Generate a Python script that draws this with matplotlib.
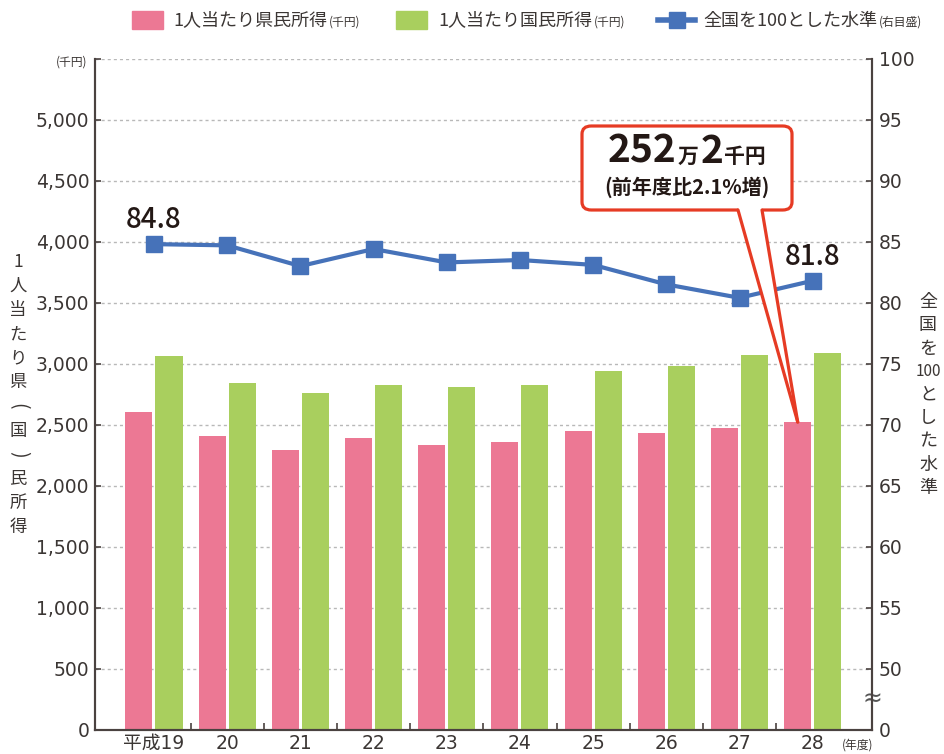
import matplotlib
matplotlib.use("Agg")
import matplotlib.pyplot as plt
import numpy as np
from matplotlib.patches import FancyBboxPatch, Polygon, Rectangle
from matplotlib.lines import Line2D
from matplotlib.offsetbox import TextArea, HPacker, AnnotationBbox

plt.rcParams['font.family'] = ['DejaVu Sans', 'Noto Sans CJK JP']
JP = ['Noto Sans CJK JP', 'DejaVu Sans']

# ---------------- data ----------------
years = ['平成19', '20', '21', '22', '23', '24', '25', '26', '27', '28']
pref_income = [2604, 2407, 2293, 2391, 2333, 2358, 2448, 2432, 2473, 2522]   # 千円
nat_income = [3063, 2842, 2760, 2825, 2809, 2825, 2940, 2981, 3071, 3088]    # 千円
level = [84.8, 84.7, 83.0, 84.4, 83.3, 83.5, 83.1, 81.5, 80.4, 81.8]         # 全国=100
left_ticks = [0, 500, 1000, 1500, 2000, 2500, 3000, 3500, 4000, 4500, 5000, 5500]
right_ticks = [0, 50, 55, 60, 65, 70, 75, 80, 85, 90, 95, 100]
legend_labels = ['1人当たり県民所得', '1人当たり国民所得', '全国を100とした水準']
legend_units = ['(千円)', '(千円)', '(右目盛)']
callout_main = ['252', '万', '2', '千円']
callout_sub = '(前年度比2.1%増)'
ylabel_left = ['1', '人', '当', 'た', 'り', '県', '(', '国', ')', '民', '所', '得']
ylabel_right = ['全', '国', 'を', '100', 'と', 'し', 'た', '水', '準']

PINK = '#ec7894'
GREEN = '#a9cf5e'
BLUE = '#4672b9'
RED = '#e63b24'
TXT = '#3b3634'
SPINE = '#4a4240'

W, H = 944, 754
fig = plt.figure(figsize=(W / 100, H / 100), dpi=100)

def fx(px):
    return px / W

def fy(py):
    return 1 - py / H

ax = fig.add_axes([fx(95), fy(729.7), fx(872) - fx(95), fy(58.7) - fy(729.7)])

x = np.arange(len(years))
bw = 0.369
off = 0.205
ax.bar(x - off, pref_income, bw, color=PINK, zorder=2)
ax.bar(x + off, nat_income, bw, color=GREEN, zorder=2)

ax.set_xlim(-0.806, 9.81)
ax.set_ylim(0, 5500)
ax.set_yticks(left_ticks)
ax.set_yticklabels([f'{v:,}' if v <= 5000 else '' for v in left_ticks])
ax.yaxis.grid(True, color='#b8b8b8', linestyle=(0, (2.2, 2.2)), linewidth=1.0)
ax.set_axisbelow(True)

ax.set_xticks(x)
ax.set_xticklabels(years)
ax.set_xticks(x[:-1] + 0.5, minor=True)
ax.tick_params(axis='x', which='major', length=0, pad=3, labelsize=13.5, colors=TXT)
ax.tick_params(axis='x', which='minor', direction='in', length=5, width=1.2, color=SPINE)
ax.tick_params(axis='y', direction='in', length=4, width=1.2, color=SPINE,
               labelsize=13.5, labelcolor=TXT, pad=4)
for lbl in ax.get_xticklabels():
    lbl.set_fontfamily(['DejaVu Sans', 'Noto Sans CJK JP'])

for s in ['left', 'right', 'bottom']:
    ax.spines[s].set_color(SPINE)
    ax.spines[s].set_linewidth(1.5)
ax.spines['top'].set_visible(False)

# right axis with broken scale (0 .. 50 compressed)
def fwd(v):
    v = np.asarray(v, dtype=float)
    return np.where(v < 50, v * 10.0, 500.0 + (v - 50.0) * 100.0)

def inv(u):
    u = np.asarray(u, dtype=float)
    return np.where(u < 500, u / 10.0, 50.0 + (u - 500.0) / 100.0)

ax2 = ax.twinx()
ax2.set_yscale('function', functions=(fwd, inv))
ax2.set_ylim(0, 100)
ax2.set_yticks(right_ticks)
ax2.set_yticklabels([str(v) for v in right_ticks])
ax2.yaxis.set_minor_locator(matplotlib.ticker.NullLocator())
ax2.tick_params(axis='y', direction='in', length=4, width=1.2, color=SPINE,
                labelsize=13.5, labelcolor=TXT, pad=5)
for s in ['left', 'right', 'bottom']:
    ax2.spines[s].set_color(SPINE)
    ax2.spines[s].set_linewidth(1.5)
ax2.spines['top'].set_visible(False)

ax2.plot(x, level, color=BLUE, lw=3.0, marker='s', markersize=11.5,
         markerfacecolor=BLUE, markeredgecolor=BLUE, zorder=5)
for i in (0, len(level) - 1):
    ax2.annotate(f'{level[i]}', (x[i], level[i]), xytext=(0, 11.5),
                 textcoords='offset points', ha='center', va='baseline',
                 fontsize=20, family=JP, fontweight='medium', color='#231815', zorder=6)

# axis break mark
ax.text(1.0, 250, '≈', transform=ax.get_yaxis_transform(), ha='center', va='center',
        fontsize=17, color='#555555', family='DejaVu Sans', zorder=7)

# ---------------- callout ----------------
bx0, bx1 = (582 - 95) / 777, (792 - 95) / 777
by0, by1 = (729.7 - 210) / 671, (729.7 - 126) / 671
box = FancyBboxPatch((bx0, by0), bx1 - bx0, by1 - by0,
                     boxstyle='round,pad=0,rounding_size=0.012',
                     transform=ax2.transAxes, facecolor='white', edgecolor=RED,
                     linewidth=2.3, zorder=10, clip_on=False)
ax2.add_patch(box)
tip = ax.transAxes.inverted().transform(ax.transData.transform((x[-1] - off, pref_income[-1])))
tl, tr = (738 - 95) / 777, (762 - 95) / 777
ax2.add_patch(Polygon([(tl, by0 + 0.004), (tip[0], tip[1]), (tr, by0 + 0.004)],
                      closed=True, transform=ax2.transAxes, facecolor='white',
                      edgecolor='none', zorder=11, clip_on=False))
for bxp in (tl, tr):
    ax2.add_line(Line2D([bxp, tip[0]], [by0, tip[1]], transform=ax2.transAxes,
                        color=RED, lw=2.3, zorder=12, clip_on=False,
                        solid_capstyle='round'))

sizes = [28, 15, 28, 15]
parts = [TextArea(t, textprops=dict(fontsize=s, fontweight='bold', family=JP, color='#231815'))
         for t, s in zip(callout_main, sizes)]
pack = HPacker(children=parts, align='baseline', pad=0, sep=1)
ab = AnnotationBbox(pack, ((687 - 95) / 777, (729.7 - 151) / 671), xycoords=ax2.transAxes,
                    frameon=False, box_alignment=(0.5, 0.5), zorder=13)
ax2.add_artist(ab)
ax2.text((687 - 95) / 777, (729.7 - 187.5) / 671, callout_sub, transform=ax2.transAxes,
         ha='center', va='center', fontsize=14.5, fontweight='bold', family=JP,
         color='#231815', zorder=13)

# ---------------- axis titles ----------------
fig.text(fx(72), fy(62), '(千円)', ha='center', va='center', fontsize=8.5, family=JP, color=TXT)
fig.text(fx(858), fy(745), '(年度)', ha='center', va='center', fontsize=8.5, family=JP, color=TXT)

for i, ch in enumerate(ylabel_left):
    rot = -90 if ch in ('(', ')') else 0
    fig.text(fx(18), fy(262 + i * 24.1), ch, ha='center', va='center',
             fontsize=14 if rot else 12.5, family=JP, color=TXT, rotation=rot)
for i, ch in enumerate(ylabel_right):
    fig.text(fx(928), fy(302 + i * 23.25), ch, ha='center', va='center',
             fontsize=11 if ch.isdigit() else 13, family=JP, color=TXT)

# ---------------- legend ----------------
fig.patches.append(Rectangle((fx(132), fy(29)), fx(31), fy(11) - fy(29),
                             transform=fig.transFigure, color=PINK))
fig.patches.append(Rectangle((fx(396), fy(29)), fx(31), fy(11) - fy(29),
                             transform=fig.transFigure, color=GREEN))
fig.lines.append(Line2D([fx(658), fx(695)], [fy(20), fy(20)], transform=fig.transFigure,
                        color=BLUE, lw=4, marker=None))
fig.lines.append(Line2D([fx(676.5)], [fy(20)], transform=fig.transFigure,
                        color=BLUE, marker='s', markersize=12, linestyle='none'))
for lx, lab, unit in zip([173, 438, 703], legend_labels, legend_units):
    tp = [TextArea(lab, textprops=dict(fontsize=13, family=JP, color=TXT)),
          TextArea(unit, textprops=dict(fontsize=8.5, family=JP, color=TXT))]
    hp = HPacker(children=tp, align='baseline', pad=0, sep=1)
    fig.add_artist(AnnotationBbox(hp, (fx(lx), fy(20.5)), xycoords='figure fraction',
                                  frameon=False, box_alignment=(0, 0.5)))

fig.savefig('out.png', dpi=100)
